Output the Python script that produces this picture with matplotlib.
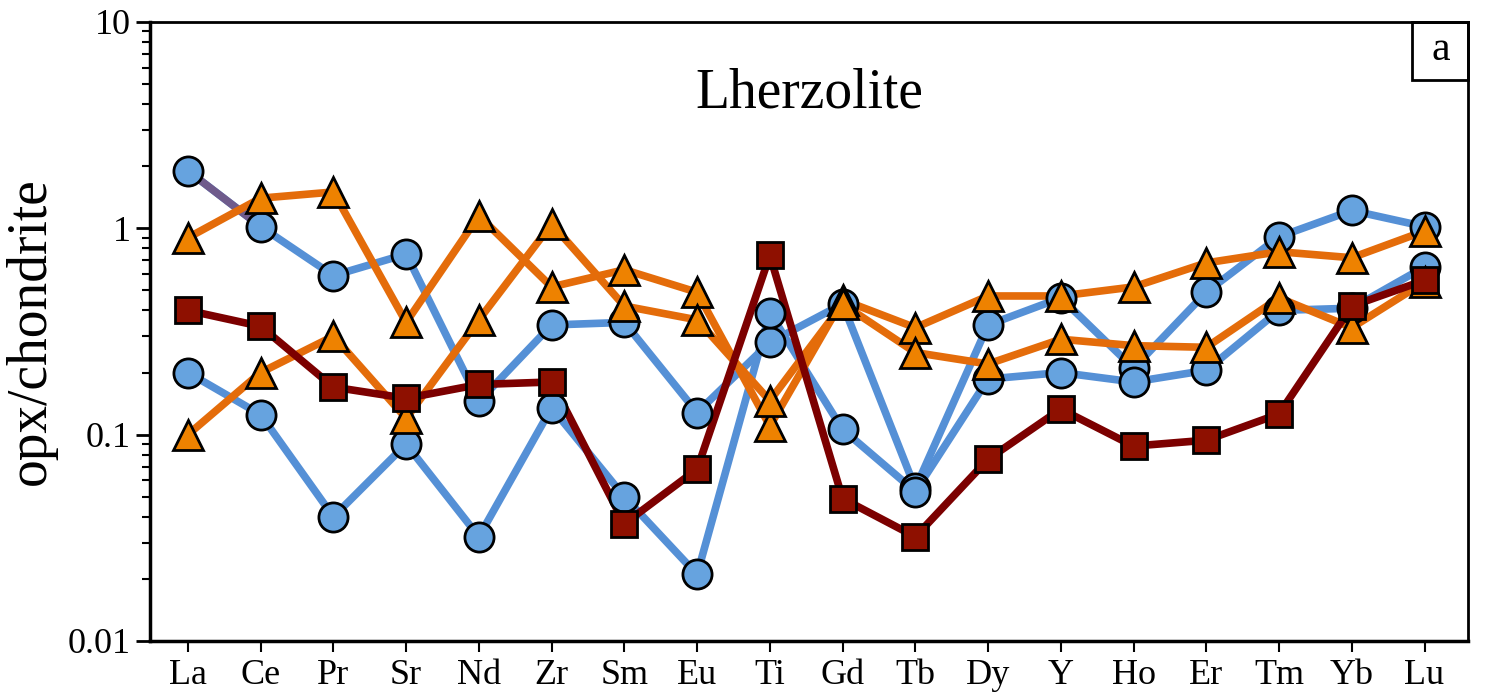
import numpy as np
import matplotlib
matplotlib.use("Agg")
import matplotlib.pyplot as plt
from matplotlib.ticker import LogLocator, FixedLocator, FuncFormatter
from matplotlib.patches import Rectangle

plt.rcParams["font.family"] = ["Liberation Serif", "DejaVu Serif"]

elements = ["La", "Ce", "Pr", "Sr", "Nd", "Zr", "Sm", "Eu", "Ti",
            "Gd", "Tb", "Dy", "Y", "Ho", "Er", "Tm", "Yb", "Lu"]

# opx / chondrite, circles (two samples)
circ_a = [1.9, 1.02, 0.59, 0.75, 0.145, 0.34, 0.35, 0.128, 0.28,
          0.43, 0.055, 0.34, 0.46, 0.21, 0.49, 0.91, 1.22, 1.02]
circ_b = [0.2, 0.125, 0.04, 0.09, 0.032, 0.135, 0.05, 0.021, 0.39,
          0.106, 0.053, 0.186, 0.2, 0.18, 0.205, 0.40, 0.41, 0.65]

# triangles (two samples)
tri_a = [0.9, 1.4, 1.5, 0.35, 1.15, 0.52, 0.63, 0.49, 0.11,
         0.45, 0.33, 0.47, 0.47, 0.52, 0.68, 0.77, 0.72, 0.97]
tri_b = [0.1, 0.2, 0.3, 0.12, 0.36, 1.05, 0.42, 0.36, 0.146,
         0.43, 0.25, 0.22, 0.29, 0.27, 0.265, 0.46, 0.33, 0.55]

# squares (one sample)
sq = [0.4, 0.335, 0.17, 0.15, 0.175, 0.18, 0.037, 0.068, 0.74,
      0.049, 0.032, 0.076, 0.133, 0.088, 0.094, 0.126, 0.42, 0.56]

blue_ln, blue_fc = "#5590d6", "#66a3df"
purp_ln = "#6f5b8c"
orng_ln, orng_fc = "#e46c0a", "#ee8200"
red_ln, red_fc = "#7c0000", "#8e1000"

x = np.arange(len(elements))
lw = 5.5
ms = 21
mew = 2.0

fig = plt.figure(figsize=(14.86, 6.98), dpi=100)
ax = fig.add_axes([0.101, 0.0817, 0.887, 0.8868])

# lines first
ax.plot(x, circ_a, color=blue_ln, lw=lw, zorder=2)
ax.plot(x[:2], circ_a[:2], color=purp_ln, lw=lw, zorder=2.1)
ax.plot(x, circ_b, color=blue_ln, lw=lw, zorder=2)
ax.plot(x, tri_a, color=orng_ln, lw=lw, zorder=3)
ax.plot(x, tri_b, color=orng_ln, lw=lw, zorder=3)
ax.plot(x, sq, color=red_ln, lw=lw, zorder=4)

# then markers
for ys in (circ_a, circ_b):
    ax.plot(x, ys, ls="none", marker="o", ms=ms, mfc=blue_fc, mec="black", mew=mew, zorder=5)
for ys in (tri_a, tri_b):
    ax.plot(x, ys, ls="none", marker="^", ms=ms + 1, mfc=orng_fc, mec="black", mew=mew, zorder=6)
ax.plot(x, sq, ls="none", marker="s", ms=ms - 2, mfc=red_fc, mec="black", mew=mew, zorder=7)

ax.set_yscale("log")
ax.set_ylim(0.01, 10)
ax.set_xlim(-0.52, 17.6)
ax.set_xticks(x)
ax.set_xticklabels(elements)
ax.yaxis.set_major_locator(FixedLocator([0.01, 0.1, 1, 10]))
ax.yaxis.set_major_formatter(FuncFormatter(lambda v, p: "%g" % v))
ax.yaxis.set_minor_locator(LogLocator(base=10, subs=np.arange(2, 10)))

ax.tick_params(axis="both", which="major", labelsize=26, direction="out")
ax.tick_params(axis="y", which="major", length=10, width=2, pad=4)
ax.tick_params(axis="y", which="minor", length=6, width=1.5)
ax.tick_params(axis="x", which="major", length=8, width=1.5, pad=5)
ax.tick_params(top=False, right=False, which="both")
for s in ax.spines.values():
    s.set_linewidth(2)
ax.spines["left"].set_linewidth(2.5)
ax.spines["bottom"].set_linewidth(2.5)

ax.set_ylabel("opx/chondrite", fontsize=40, labelpad=8)
ax.text(0.5, 0.884, "Lherzolite", transform=ax.transAxes, fontsize=40,
        ha="center", va="center")

# panel letter box
ax.add_patch(Rectangle((0.9575, 0.906), 0.0425, 0.094, transform=ax.transAxes,
                       fill=False, lw=2, zorder=10, clip_on=False))
ax.text(0.979, 0.955, "a", transform=ax.transAxes, fontsize=30,
        ha="center", va="center", zorder=10)

fig.savefig("out.png", dpi=100)
